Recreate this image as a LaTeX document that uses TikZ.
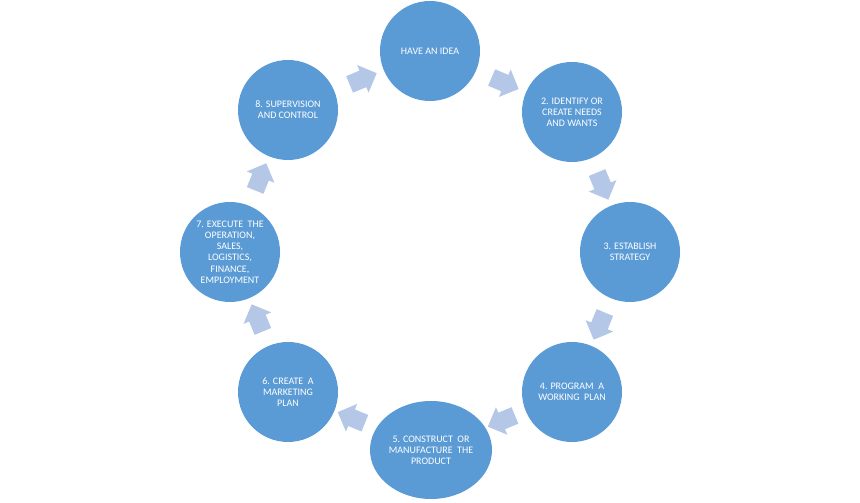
\documentclass[tikz,border=0pt]{standalone}
\usepackage{fontspec}
\setmainfont{Carlito}
\usepackage{xcolor}
\definecolor{stageblue}{HTML}{5B9BD5}
\definecolor{flowblue}{HTML}{B4C7E7}
\usetikzlibrary{positioning, calc, shapes.arrows, shapes.geometric}
\tikzset{
  stage/.style={circle, fill=stageblue, minimum size=75pt, inner sep=0pt,
    text=white, align=center, font=\fontsize{7.5}{8.4}\selectfont},
  flow/.style={single arrow, fill=flowblue, minimum height=22pt,
    minimum width=22pt, single arrow head extend=4.5pt, inner xsep=0pt,
    inner ysep=6.5pt, sloped, allow upside down}
}

\begin{document}
\begin{tikzpicture}[x=0.75pt,y=0.75pt]
\useasboundingbox (0,0) rectangle (860,503);
% the eight stages
\node[stage] (idea) at (430,452) {HAVE AN IDEA};
\node[stage] (needs) at (572,391) {2. IDENTIFY OR\\CREATE NEEDS\\AND WANTS};
\node[stage] (strategy) at (630,251) {3. ESTABLISH\\STRATEGY};
\node[stage] (program) at (572,111) {4. PROGRAM~ A\\WORKING~ PLAN};
\node[stage, ellipse, minimum width=91.5pt, minimum height=73.5pt] (build) at (431,53)
  {5. CONSTRUCT~ OR\\MANUFACTURE~ THE\\PRODUCT};
\node[stage] (marketing) at (288,111) {6. CREATE~ A\\MARKETING\\PLAN};
\node[stage] (execute) at (230,251) {7. EXECUTE~ THE\\OPERATION,\\SALES,\\LOGISTICS,\\FINANCE,\\EMPLOYMENT};
\node[stage] (control) at (288,393) {8. SUPERVISION\\AND CONTROL};
% arrows of the cycle
\path (idea) -- node[flow]{} (needs);
\path (needs) -- node[flow]{} (strategy);
\path (strategy) -- node[flow]{} (program);
\path (program) -- node[flow]{} (build);
\path (build) -- node[flow]{} (marketing);
\path (marketing) -- node[flow]{} (execute);
\path (execute) -- node[flow]{} (control);
\path (control) -- node[flow]{} (idea);
\end{tikzpicture}
\end{document}
